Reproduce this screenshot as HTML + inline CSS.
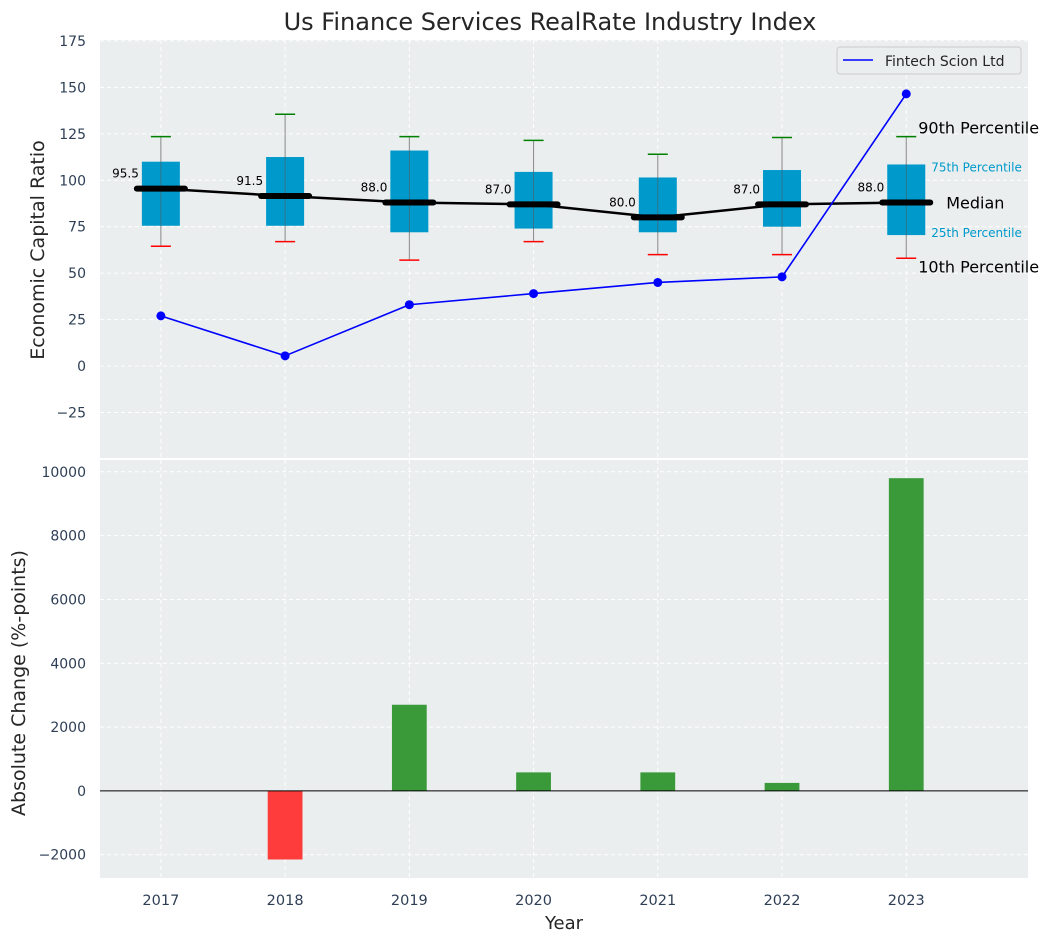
<!DOCTYPE html>
<html><head><meta charset="utf-8"><style>
body{margin:0;background:#fff;font-family:"Liberation Sans","DejaVu Sans",sans-serif}
svg text{font-family:"DejaVu Sans","Liberation Sans",sans-serif}
</style></head><body>
<svg id="chart" width="1053" height="942" xmlns="http://www.w3.org/2000/svg">
<rect width="1053" height="942" fill="#fff"/>
<text x="550" y="30" font-size="24" fill="#262626" text-anchor="middle">Us Finance Services RealRate Industry Index</text>
<g id="topPanel"></g>
<g id="botPanel"></g>
</svg>
<script>
const years=[2017,2018,2019,2020,2021,2022,2023];
const p10=[64.5,67,57,67,60,60,58];
const p25=[75.5,75.5,72,74,72,75,70.5];
const medians=[95.5,91.5,88.0,87.0,80.0,87.0,88.0];
const p75=[110,112.5,116,104.5,101.5,105.5,108.5];
const p90=[123.5,135.5,123.5,121.5,114,123,123.5];
const fintech=[27,5.5,33,39,45,48,146.5];
const changes=[0,-2150,2700,580,580,250,9800];
const topTicks=[-25,0,25,50,75,100,125,150,175];
const botTicks=[-2000,0,2000,4000,6000,8000,10000];

const NS="http://www.w3.org/2000/svg";
function mk(parent,tag,attrs,text){const e=document.createElementNS(NS,tag);for(const k in attrs)e.setAttribute(k,attrs[k]);if(text!==undefined)e.textContent=text;parent.appendChild(e);return e;}
const L=100,R=1028;
const X=v=>L+(v-2016.51)/(2023.98-2016.51)*(R-L);
const T0=40,T1=458,B0=460,B1=878;
const Yt=v=>T1-(v-(-49.5))/(175.5-(-49.5))*(T1-T0);
const Yb=v=>B1-(v-(-2730))/(10370-(-2730))*(B1-B0);
const topG=document.getElementById('topPanel'),botG=document.getElementById('botPanel');

let e;
e=mk(topG,'rect',{x:L,y:T0,width:R-L,height:T1-T0,fill:'#eaeeee'});


e=mk(botG,'rect',{x:L,y:B0,width:R-L,height:B1-B0,fill:'#eaeeee'});



years.forEach(y=>{
  [[topG,T0,T1],[botG,B0,B1]].forEach(([g,a,b])=>{
    e=mk(g,'line',{x1:X(y),x2:X(y),y1:a,y2:b,stroke:'#fff','stroke-dasharray':'4,3','stroke-width':1});
    
    
  });
  e=mk(botG,'text',{x:X(y),y:B1+27,'font-size':14.5,fill:'#2e3f55','text-anchor':'middle'},y);
  
  
});
topTicks.forEach(t=>{
  e=mk(topG,'line',{x1:L,x2:R,y1:Yt(t),y2:Yt(t),stroke:'#fff','stroke-dasharray':'4,3'});
  
  
  e=mk(topG,'text',{x:L-14,y:Yt(t)+5,'font-size':14,fill:'#2e3f55','text-anchor':'end'},t<0?'\u2212'+(-t):t);
  
  
});
botTicks.forEach(t=>{
  e=mk(botG,'line',{x1:L,x2:R,y1:Yb(t),y2:Yb(t),stroke:'#fff','stroke-dasharray':'4,3'});
  
  
  e=mk(botG,'text',{x:L-14,y:Yb(t)+5,'font-size':14,fill:'#2e3f55','text-anchor':'end'},t<0?'\u2212'+(-t):t);
  
  
});

years.forEach((y,i)=>{
  const cx=X(y);
  e=mk(topG,'line',{x1:cx,x2:cx,y1:Yt(p90[i]),y2:Yt(p10[i]),stroke:'#888','stroke-width':1});
  
  
  e=mk(topG,'rect',{x:cx-19,y:Yt(p75[i]),width:38,height:Yt(p25[i])-Yt(p75[i]),fill:'#0099cc'});
  
  
  e=mk(topG,'line',{x1:cx,x2:cx,y1:Yt(p75[i]),y2:Yt(p25[i]),stroke:'#3c6a7a','stroke-width':0.8});
  
  
  e=mk(topG,'line',{x1:cx-10,x2:cx+10,y1:Yt(p90[i]),y2:Yt(p90[i]),stroke:'green','stroke-width':1.5});
  
  
  e=mk(topG,'line',{x1:cx-10,x2:cx+10,y1:Yt(p10[i]),y2:Yt(p10[i]),stroke:'red','stroke-width':1.5});
  
  
});
let d=years.map((y,i)=>(i?'L':'M')+X(y)+','+Yt(medians[i])).join(' ');
e=mk(topG,'path',{d:d,stroke:'#000','stroke-width':2.5,fill:'none'});


years.forEach((y,i)=>{
  const cx=X(y);
  e=mk(topG,'line',{x1:cx-24,x2:cx+24,y1:Yt(medians[i]),y2:Yt(medians[i]),stroke:'#000','stroke-width':6,'stroke-linecap':'round'});
  
  
  e=mk(topG,'text',{x:cx-22,y:Yt(medians[i])-11,'font-size':12,fill:'#000','text-anchor':'end'},medians[i].toFixed(1));
  
  
});
d=years.map((y,i)=>(i?'L':'M')+X(y)+','+Yt(fintech[i])).join(' ');
e=mk(topG,'path',{d:d,stroke:'#0000ff','stroke-width':1.6,fill:'none'});


years.forEach((y,i)=>{
  e=mk(topG,'circle',{cx:X(y),cy:Yt(fintech[i]),r:4.5,fill:'#0000ff'});
  
  
});
const ax=X(2023);
[["90th Percentile",ax+12,Yt(p90[6])-3,16,'#000'],["75th Percentile",ax+25,Yt(p75[6])+7,12,'#0099cc'],["Median",ax+40,Yt(medians[6])+6,16,'#000'],["25th Percentile",ax+25,Yt(p25[6])+2,12,'#0099cc'],["10th Percentile",ax+12,Yt(p10[6])+14,16,'#000']].forEach(a=>{
  e=mk(topG,'text',{x:a[1],y:a[2],'font-size':a[3],fill:a[4]},a[0]);
  
  
});
const lg=mk(topG,'g',{});


mk(lg,'rect',{x:837,y:47,width:184,height:27,rx:3,fill:'#eaeeee',stroke:'#ccc'});
mk(lg,'line',{x1:843,x2:873,y1:60,y2:60,stroke:'#0000ff','stroke-width':1.6});
mk(lg,'text',{x:885,y:66,'font-size':14,fill:'#262626'},'Fintech Scion Ltd');

const bw=(X(1)-X(0))*0.28;
years.forEach((y,i)=>{
  const v=changes[i];
  e=mk(botG,'rect',{x:X(y)-bw/2,y:Math.min(Yb(v),Yb(0)),width:bw,height:Math.abs(Yb(v)-Yb(0)),fill:v<0?'#ff3c3c':'#3a9a3a'});
  
  
});
e=mk(botG,'line',{x1:L,x2:R,y1:Yb(0),y2:Yb(0),stroke:'#000','stroke-width':1});



e=mk(topG,'text',{x:0,y:0,'font-size':19,fill:'#262626','text-anchor':'middle',transform:`translate(44,250) rotate(-90)`},'Economic Capital Ratio');


e=mk(botG,'text',{x:0,y:0,'font-size':19,fill:'#262626','text-anchor':'middle',transform:`translate(25,683) rotate(-90)`},'Absolute Change (%-points)');


e=mk(botG,'text',{x:564,y:929,'font-size':18,fill:'#262626','text-anchor':'middle'},'Year');


</script>
</body></html>
